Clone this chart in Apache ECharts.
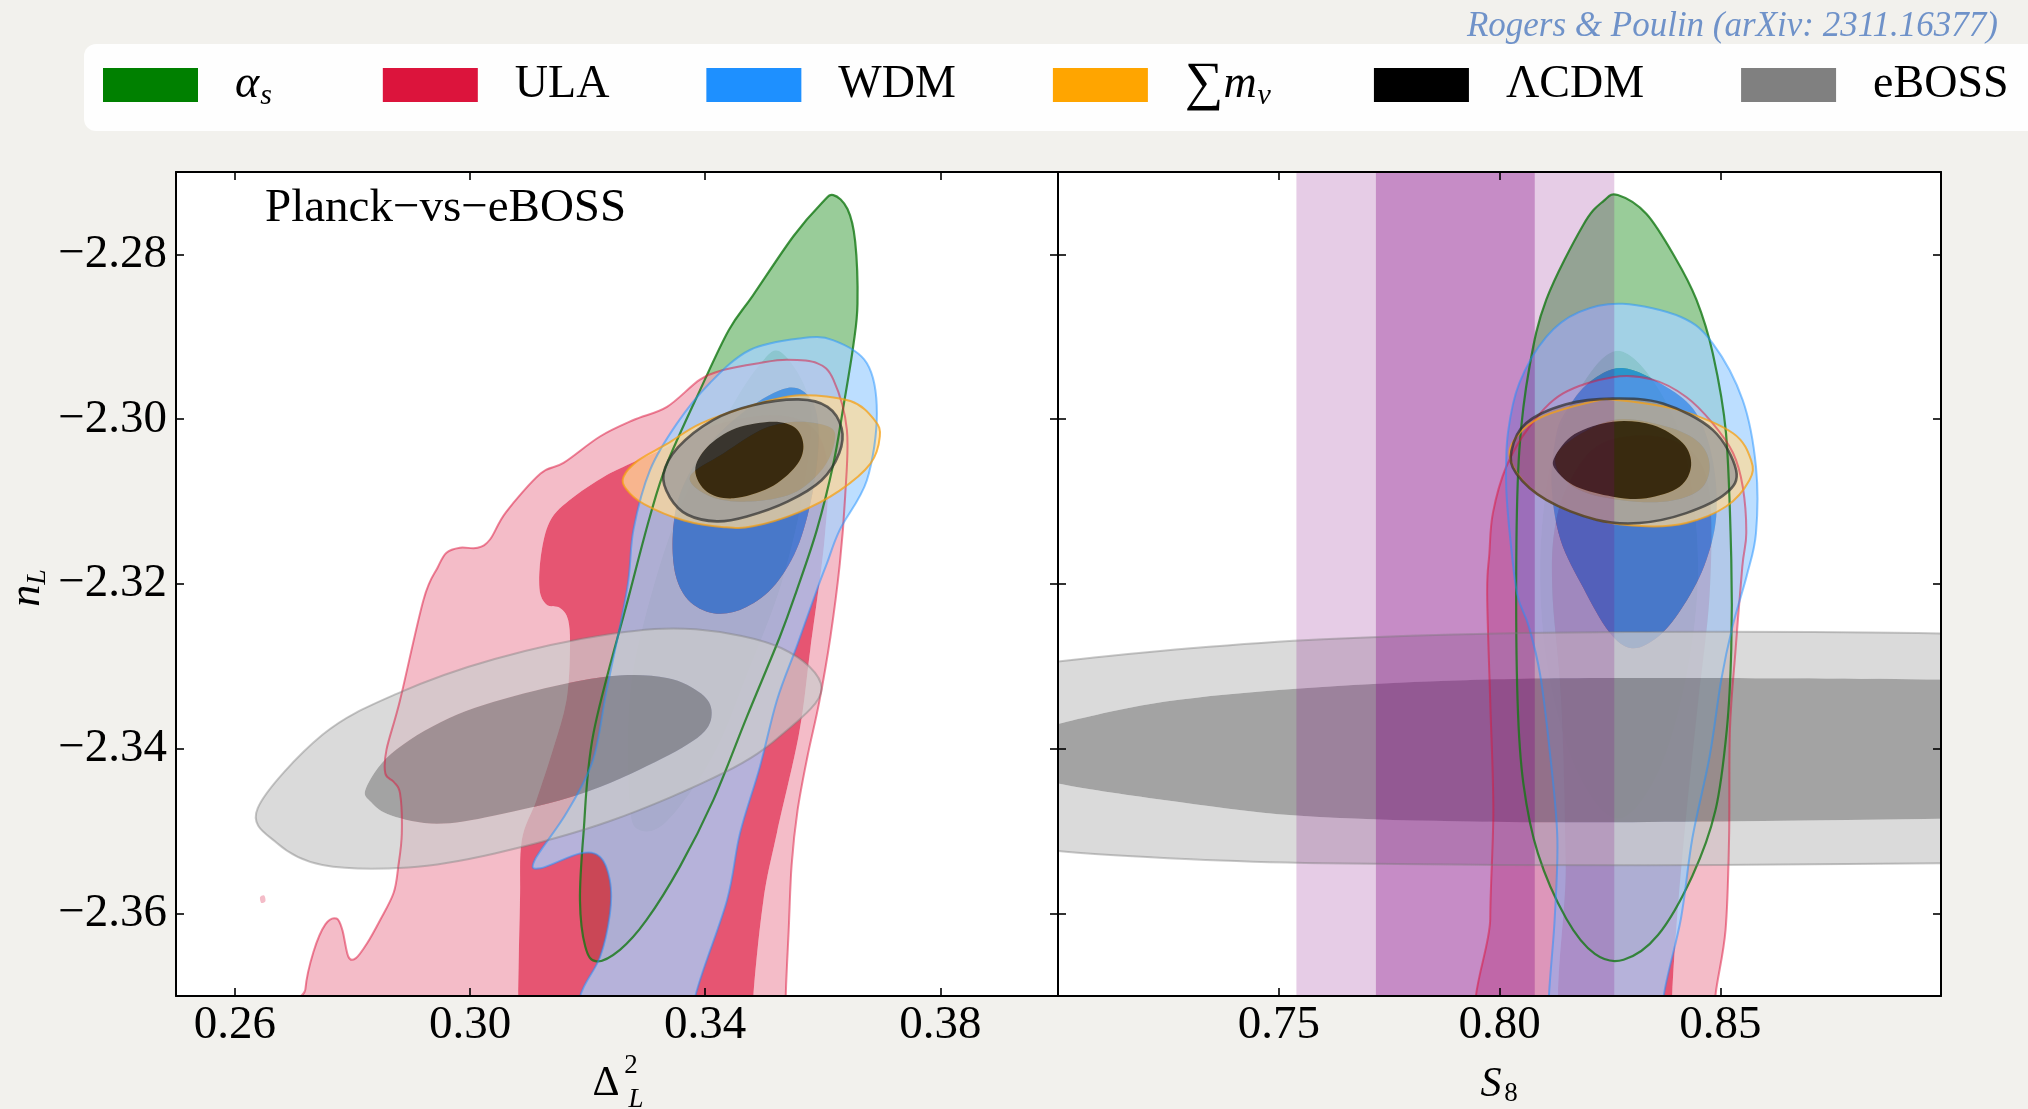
<!DOCTYPE html>
<html>
<head>
<meta charset="utf-8">
<title>Planck vs eBOSS</title>
<script src="https://cdn.jsdelivr.net/npm/echarts@6/dist/echarts.min.js"></script>
<style>
html,body{margin:0;padding:0;background:#f2f1ed;}
#chart{width:2028px;height:1109px;}
</style>
</head>
<body>
<div id="chart"></div>
<script>
// ---------------- axis ranges & ticks ----------------
const X_RANGE_DL = [0.25, 0.40];
const X_RANGE_S8 = [0.70, 0.90];
const Y_RANGE_NL = [-2.37, -2.27];
const X_TICKS_DL = [0.26, 0.30, 0.34, 0.38];
const X_TICKS_S8 = [0.75, 0.80, 0.85];
const Y_TICKS_NL = [-2.28, -2.30, -2.32, -2.34, -2.36];

// ---------------- legend ----------------
const LEGEND_KEYS = ['as', 'ULA', 'WDM', 'mnu', 'LCDM', 'eBOSS'];
const LEGEND_LABELS = ['{it|α}{sub|s}{gapA|\u2003}', 'ULA', 'WDM', '{sum|∑}{it|m}{sub|ν}{gapB|\u2003}', 'ΛCDM', 'eBOSS'];
const LEGEND_COLORS = ['#008000', '#dc143c', '#1e90ff', '#ffa500', '#000000', '#808080'];
const CREDIT = 'Rogers & Poulin (arXiv: 2311.16377)';
const PANEL_TITLE = 'Planck\u2212vs\u2212eBOSS';

// ---------------- left panel contours (x = Δ²_L, y = n_L) ----------------
const LEFT_AS_2 = [[0.3618,-2.2728],[0.3642,-2.2745],[0.3655,-2.2784],[0.3659,-2.2860],[0.3652,-2.2910],[0.3635,-2.2985],[0.3618,-2.3054],[0.3590,-2.3134],[0.3556,-2.3207],[0.3527,-2.3264],[0.3471,-2.3361],[0.3414,-2.3462],[0.3357,-2.3543],[0.3300,-2.3608],[0.3255,-2.3644],[0.3215,-2.3658],[0.3196,-2.3640],[0.3187,-2.3584],[0.3193,-2.3503],[0.3210,-2.3381],[0.3270,-2.3215],[0.3306,-2.3118],[0.3335,-2.3054],[0.3391,-2.2965],[0.3440,-2.2892],[0.3481,-2.2850],[0.3550,-2.2778],[0.3598,-2.2738]];
const LEFT_AS_1 = [[0.3530,-2.2919],[0.3579,-2.2982],[0.3569,-2.3080],[0.3530,-2.3199],[0.3471,-2.3310],[0.3413,-2.3409],[0.3335,-2.3488],[0.3286,-2.3498],[0.3271,-2.3462],[0.3271,-2.3343],[0.3296,-2.3245],[0.3354,-2.3113],[0.3432,-2.3001],[0.3491,-2.2935]];
const LEFT_ULA_2 = [[0.2720,-2.3760],[0.2720,-2.3692],[0.2734,-2.3646],[0.2754,-2.3613],[0.2773,-2.3606],[0.2783,-2.3620],[0.2793,-2.3652],[0.2806,-2.3654],[0.2825,-2.3636],[0.2847,-2.3608],[0.2870,-2.3575],[0.2878,-2.3543],[0.2884,-2.3503],[0.2881,-2.3454],[0.2870,-2.3440],[0.2856,-2.3430],[0.2858,-2.3401],[0.2881,-2.3341],[0.2921,-2.3219],[0.2945,-2.3180],[0.2960,-2.3162],[0.2983,-2.3156],[0.3013,-2.3156],[0.3034,-2.3146],[0.3061,-2.3113],[0.3120,-2.3066],[0.3159,-2.3053],[0.3221,-2.3021],[0.3278,-2.3001],[0.3335,-2.2985],[0.3391,-2.2952],[0.3432,-2.2940],[0.3491,-2.2932],[0.3539,-2.2928],[0.3590,-2.2932],[0.3618,-2.2952],[0.3641,-2.3013],[0.3638,-2.3094],[0.3629,-2.3175],[0.3613,-2.3264],[0.3594,-2.3343],[0.3574,-2.3409],[0.3557,-2.3475],[0.3547,-2.3541],[0.3542,-2.3620],[0.3537,-2.3700],[0.3537,-2.3760]];
const LEFT_ULA_2_ISLAND = [[0.2643,-2.3580],[0.2650,-2.3578],[0.2652,-2.3585],[0.2645,-2.3587]];
const LEFT_ULA_1 = [[0.3082,-2.3760],[0.3082,-2.3700],[0.3085,-2.3584],[0.3088,-2.3511],[0.3113,-2.3462],[0.3141,-2.3401],[0.3164,-2.3341],[0.3170,-2.3280],[0.3167,-2.3244],[0.3153,-2.3229],[0.3130,-2.3225],[0.3118,-2.3205],[0.3122,-2.3159],[0.3139,-2.3120],[0.3179,-2.3093],[0.3227,-2.3070],[0.3272,-2.3054],[0.3335,-2.3034],[0.3413,-2.3008],[0.3510,-2.2995],[0.3579,-2.3008],[0.3608,-2.3054],[0.3603,-2.3146],[0.3579,-2.3278],[0.3560,-2.3380],[0.3522,-2.3502],[0.3499,-2.3584],[0.3482,-2.3700],[0.3482,-2.3760]];
const LEFT_WDM_2 = [[0.3561,-2.2902],[0.3617,-2.2904],[0.3675,-2.2932],[0.3692,-2.2993],[0.3675,-2.3074],[0.3629,-2.3134],[0.3607,-2.3175],[0.3590,-2.3207],[0.3556,-2.3275],[0.3522,-2.3341],[0.3493,-2.3422],[0.3459,-2.3503],[0.3437,-2.3584],[0.3383,-2.3701],[0.3380,-2.3760],[0.3185,-2.3760],[0.3187,-2.3701],[0.3221,-2.3653],[0.3238,-2.3600],[0.3238,-2.3560],[0.3221,-2.3531],[0.3187,-2.3527],[0.3120,-2.3545],[0.3110,-2.3535],[0.3164,-2.3478],[0.3209,-2.3414],[0.3232,-2.3330],[0.3267,-2.3207],[0.3278,-2.3134],[0.3306,-2.3062],[0.3352,-2.3005],[0.3408,-2.2956],[0.3476,-2.2916]];
const LEFT_WDM_1 = [[0.3540,-2.2962],[0.3579,-2.2975],[0.3593,-2.3014],[0.3585,-2.3080],[0.3560,-2.3150],[0.3520,-2.3200],[0.3470,-2.3228],[0.3420,-2.3236],[0.3375,-2.3222],[0.3350,-2.3190],[0.3345,-2.3139],[0.3359,-2.3087],[0.3403,-2.3034],[0.3471,-2.2988]];
const LEFT_MNU_2 = [[0.3261,-2.3070],[0.3286,-2.3050],[0.3335,-2.3030],[0.3393,-2.3005],[0.3481,-2.2983],[0.3561,-2.2971],[0.3647,-2.2978],[0.3688,-2.3001],[0.3697,-2.3021],[0.3681,-2.3054],[0.3628,-2.3087],[0.3559,-2.3113],[0.3481,-2.3130],[0.3432,-2.3131],[0.3364,-2.3123],[0.3296,-2.3103],[0.3266,-2.3085]];
const LEFT_MNU_1 = [[0.3374,-2.3070],[0.3432,-2.3041],[0.3501,-2.3011],[0.3561,-2.3003],[0.3613,-2.3010],[0.3620,-2.3028],[0.3600,-2.3060],[0.3549,-2.3090],[0.3476,-2.3100],[0.3410,-2.3094]];
const LEFT_LCDM_2 = [[0.3329,-2.3067],[0.3354,-2.3034],[0.3413,-2.3001],[0.3481,-2.2983],[0.3559,-2.2976],[0.3608,-2.2985],[0.3632,-2.3011],[0.3628,-2.3041],[0.3598,-2.3074],[0.3540,-2.3100],[0.3471,-2.3118],[0.3420,-2.3124],[0.3370,-2.3116],[0.3340,-2.3095]];
const LEFT_LCDM_1 = [[0.3383,-2.3062],[0.3403,-2.3034],[0.3452,-2.3011],[0.3516,-2.3003],[0.3554,-2.3011],[0.3567,-2.3033],[0.3554,-2.3057],[0.3510,-2.3083],[0.3448,-2.3096],[0.3403,-2.3088]];
const LEFT_EBOSS_2 = [[0.2639,-2.3472],[0.2671,-2.3514],[0.2749,-2.3541],[0.2895,-2.3544],[0.3042,-2.3527],[0.3237,-2.3488],[0.3432,-2.3429],[0.3530,-2.3383],[0.3598,-2.3327],[0.3530,-2.3278],[0.3384,-2.3255],[0.3237,-2.3261],[0.3042,-2.3291],[0.2876,-2.3333],[0.2749,-2.3383]];
const LEFT_EBOSS_1 = [[0.2823,-2.3448],[0.2832,-2.3465],[0.2866,-2.3481],[0.2944,-2.3491],[0.3042,-2.3481],[0.3188,-2.3455],[0.3315,-2.3416],[0.3393,-2.3383],[0.3411,-2.3356],[0.3393,-2.3333],[0.3335,-2.3314],[0.3237,-2.3312],[0.3091,-2.3333],[0.2964,-2.3363],[0.2866,-2.3406]];

// ---------------- right panel contours (x = S8, y = n_L) ----------------
const RIGHT_AS_2 = [[0.8268,-2.2728],[0.8333,-2.2751],[0.8398,-2.2804],[0.8446,-2.2855],[0.8483,-2.2920],[0.8513,-2.3017],[0.8525,-2.3171],[0.8525,-2.3278],[0.8515,-2.3376],[0.8489,-2.3475],[0.8437,-2.3554],[0.8359,-2.3626],[0.8281,-2.3656],[0.8216,-2.3649],[0.8151,-2.3606],[0.8087,-2.3527],[0.8054,-2.3442],[0.8041,-2.3343],[0.8038,-2.3171],[0.8045,-2.3037],[0.8068,-2.2936],[0.8106,-2.2855],[0.8190,-2.2764],[0.8236,-2.2735]];
const RIGHT_AS_1 = [[0.8268,-2.2917],[0.8359,-2.2962],[0.8424,-2.3047],[0.8450,-2.3179],[0.8424,-2.3310],[0.8359,-2.3429],[0.8268,-2.3485],[0.8177,-2.3429],[0.8112,-2.3310],[0.8092,-2.3179],[0.8118,-2.3047],[0.8183,-2.2962]];
const RIGHT_ULA_2 = [[0.7982,-2.3760],[0.7979,-2.3606],[0.7986,-2.3475],[0.7979,-2.3343],[0.7972,-2.3212],[0.7977,-2.3163],[0.7985,-2.3114],[0.8015,-2.3058],[0.8068,-2.3009],[0.8143,-2.2969],[0.8257,-2.2949],[0.8347,-2.2952],[0.8423,-2.2973],[0.8483,-2.3005],[0.8529,-2.3041],[0.8551,-2.3082],[0.8559,-2.3138],[0.8550,-2.3179],[0.8535,-2.3278],[0.8522,-2.3376],[0.8520,-2.3508],[0.8512,-2.3620],[0.8489,-2.3700],[0.8485,-2.3760]];
const RIGHT_ULA_1 = [[0.8150,-2.3760],[0.8150,-2.3541],[0.8140,-2.3343],[0.8120,-2.3212],[0.8125,-2.3133],[0.8160,-2.3074],[0.8229,-2.3030],[0.8346,-2.3020],[0.8437,-2.3040],[0.8476,-2.3093],[0.8476,-2.3212],[0.8450,-2.3343],[0.8424,-2.3475],[0.8404,-2.3593],[0.8391,-2.3700],[0.8391,-2.3760]];
const RIGHT_WDM_2 = [[0.8279,-2.2860],[0.8411,-2.2876],[0.8483,-2.2908],[0.8551,-2.2977],[0.8581,-2.3058],[0.8581,-2.3138],[0.8560,-2.3190],[0.8528,-2.3251],[0.8502,-2.3317],[0.8476,-2.3409],[0.8437,-2.3508],[0.8411,-2.3606],[0.8372,-2.3700],[0.8372,-2.3760],[0.8112,-2.3760],[0.8112,-2.3700],[0.8125,-2.3606],[0.8131,-2.3508],[0.8115,-2.3409],[0.8092,-2.3310],[0.8066,-2.3251],[0.8040,-2.3212],[0.8023,-2.3138],[0.8015,-2.3078],[0.8019,-2.3017],[0.8045,-2.2956],[0.8106,-2.2900],[0.8180,-2.2870]];
const RIGHT_WDM_1 = [[0.8279,-2.2938],[0.8378,-2.2961],[0.8446,-2.2993],[0.8483,-2.3050],[0.8491,-2.3118],[0.8463,-2.3179],[0.8411,-2.3231],[0.8359,-2.3264],[0.8300,-2.3278],[0.8248,-2.3258],[0.8190,-2.3205],[0.8138,-2.3146],[0.8118,-2.3080],[0.8128,-2.3020],[0.8151,-2.2990],[0.8204,-2.2955]];
const RIGHT_MNU_2 = [[0.8025,-2.3034],[0.8086,-2.3000],[0.8216,-2.2978],[0.8272,-2.2977],[0.8408,-2.2989],[0.8529,-2.3017],[0.8570,-2.3050],[0.8566,-2.3074],[0.8513,-2.3106],[0.8423,-2.3126],[0.8332,-2.3130],[0.8219,-2.3122],[0.8106,-2.3098],[0.8040,-2.3066]];
const RIGHT_MNU_1 = [[0.8143,-2.3033],[0.8257,-2.3001],[0.8378,-2.3009],[0.8453,-2.3029],[0.8476,-2.3058],[0.8453,-2.3086],[0.8378,-2.3100],[0.8272,-2.3098],[0.8181,-2.3086],[0.8130,-2.3060]];
const RIGHT_LCDM_2 = [[0.8027,-2.3039],[0.8060,-2.3005],[0.8151,-2.2982],[0.8257,-2.2975],[0.8370,-2.2981],[0.8483,-2.3013],[0.8536,-2.3062],[0.8513,-2.3090],[0.8423,-2.3114],[0.8317,-2.3126],[0.8219,-2.3122],[0.8106,-2.3098],[0.8038,-2.3066]];
const RIGHT_LCDM_1 = [[0.8125,-2.3046],[0.8170,-2.3018],[0.8257,-2.3003],[0.8347,-2.3007],[0.8415,-2.3029],[0.8434,-2.3056],[0.8408,-2.3082],[0.8332,-2.3096],[0.8257,-2.3094],[0.8174,-2.3082],[0.8128,-2.3062]];
const RIGHT_EBOSS_2 = [[0.636,-2.3405],[0.645,-2.3360],[0.660,-2.3330],[0.680,-2.3308],[0.700,-2.3294],[0.730,-2.3278],[0.760,-2.3267],[0.800,-2.3260],[0.850,-2.3258],[0.900,-2.3260],[0.950,-2.3268],[0.990,-2.3300],[1.010,-2.3400],[0.990,-2.3500],[0.950,-2.3532],[0.900,-2.3539],[0.850,-2.3541],[0.800,-2.3541],[0.760,-2.3539],[0.730,-2.3534],[0.700,-2.3524],[0.680,-2.3507],[0.660,-2.3484],[0.645,-2.3452]];
const RIGHT_EBOSS_1 = [[0.688,-2.3406],[0.695,-2.3382],[0.700,-2.3370],[0.724,-2.3343],[0.754,-2.3327],[0.790,-2.3317],[0.830,-2.3314],[0.900,-2.3316],[0.950,-2.3325],[0.980,-2.3360],[0.990,-2.3400],[0.980,-2.3450],[0.950,-2.3478],[0.900,-2.3485],[0.830,-2.3489],[0.790,-2.3488],[0.754,-2.3481],[0.724,-2.3462],[0.700,-2.3442],[0.695,-2.3430]];
const S8_BAND_2SIG = [0.754, 0.826];
const S8_BAND_1SIG = [0.772, 0.808];

// ---------------- styles ----------------
const SERIF = "'Liberation Serif','Times New Roman',serif";
const FILL = {
  as:    ['rgba(113,184,113,0.72)', 'rgba(0,128,0,0.72)'],
  ULA:   ['rgba(240,162,179,0.72)', 'rgba(220,20,60,0.72)'],
  WDM:   ['rgba(165,210,255,0.74)', 'rgba(30,144,255,0.72)'],
  mnu:   ['rgba(255,219,153,0.72)', 'rgba(255,165,0,0.72)'],
  LCDM:  ['rgba(153,153,153,0.72)', 'rgba(0,0,0,0.72)'],
  eBOSS: ['rgba(204,204,204,0.72)', 'rgba(128,128,128,0.72)']
};
const EDGE = {
  as: ['rgba(20,120,20,0.8)', 2.2], ULA: ['rgba(220,20,60,0.5)', 2], WDM: ['rgba(30,144,255,0.5)', 2],
  mnu: ['rgba(245,160,20,0.75)', 2], LCDM: ['rgba(45,45,45,0.7)', 2.6], eBOSS: ['rgba(120,120,120,0.4)', 2]
};

// ---------------- helpers ----------------
function closedSpline(p) {
  const n = p.length; const f = v => v.toFixed(2);
  let d = 'M' + f(p[0][0]) + ' ' + f(p[0][1]);
  for (let i = 0; i < n; i++) {
    const p0 = p[(i - 1 + n) % n], p1 = p[i], p2 = p[(i + 1) % n], p3 = p[(i + 2) % n];
    d += ' C' + f(p1[0] + (p2[0] - p0[0]) / 6) + ' ' + f(p1[1] + (p2[1] - p0[1]) / 6) + ' ' +
      f(p2[0] - (p3[0] - p1[0]) / 6) + ' ' + f(p2[1] - (p3[1] - p1[1]) / 6) + ' ' + f(p2[0]) + ' ' + f(p2[1]);
  }
  return d + ' Z';
}
function rectRing(p) {
  return 'M' + p.map(q => q[0].toFixed(2) + ' ' + q[1].toFixed(2)).join(' L') + ' Z';
}
function signedArea(p) {
  let a = 0;
  for (let i = 0; i < p.length; i++) { const q = p[i], r = p[(i + 1) % p.length]; a += q[0] * r[1] - r[0] * q[1]; }
  return a;
}
function fillSeries(name, gi, outer, inner, color) {
  return {
    type: 'custom', name: name, xAxisIndex: gi, yAxisIndex: gi, clip: true, silent: true, animation: false,
    itemStyle: {color: color}, data: outer, encode: {x: 0, y: 1},
    renderItem: function (params, api) {
      if (params.dataIndex !== 0) return null;
      const o = outer.map(q => api.coord(q));
      let d = closedSpline(o);
      if (inner) {
        let h = inner.map(q => api.coord(q));
        if (signedArea(h) * signedArea(o) > 0) h = h.slice().reverse();
        d += ' ' + closedSpline(h);
      }
      return {type: 'path', shape: {pathData: d}, style: {fill: color, stroke: null}};
    }
  };
}
function edgeSeries(name, gi, pts, stroke, width) {
  return {
    type: 'custom', name: name, xAxisIndex: gi, yAxisIndex: gi, clip: true, silent: true, animation: false,
    data: pts, encode: {x: 0, y: 1},
    renderItem: function (params, api) {
      if (params.dataIndex !== 0) return null;
      return {type: 'path', shape: {pathData: closedSpline(pts.map(q => api.coord(q)))},
        style: {fill: null, stroke: stroke, lineWidth: width}};
    }
  };
}
function bandSeries(name, band, inner, color) {
  return {
    type: 'custom', name: name, xAxisIndex: 1, yAxisIndex: 1, clip: true, silent: true, animation: false,
    data: [band], encode: {x: [0, 1]},
    renderItem: function (params, api) {
      const cs = params.coordSys;
      const x0 = api.coord([band[0], Y_RANGE_NL[0]])[0], x1 = api.coord([band[1], Y_RANGE_NL[0]])[0];
      const y0 = cs.y, y1 = cs.y + cs.height;
      let d = rectRing([[x0, y0], [x1, y0], [x1, y1], [x0, y1]]);
      if (inner) {
        const i0 = api.coord([inner[0], Y_RANGE_NL[0]])[0], i1 = api.coord([inner[1], Y_RANGE_NL[0]])[0];
        d += ' ' + rectRing([[i0, y0], [i0, y1], [i1, y1], [i1, y0]]);
      }
      return {type: 'path', shape: {pathData: d}, style: {fill: color, stroke: null}};
    }
  };
}

const PANELS = [
  {g: 0, as: [LEFT_AS_2, LEFT_AS_1], ULA: [LEFT_ULA_2, LEFT_ULA_1], WDM: [LEFT_WDM_2, LEFT_WDM_1],
   mnu: [LEFT_MNU_2, LEFT_MNU_1], LCDM: [LEFT_LCDM_2, LEFT_LCDM_1], eBOSS: [LEFT_EBOSS_2, LEFT_EBOSS_1]},
  {g: 1, as: [RIGHT_AS_2, RIGHT_AS_1], ULA: [RIGHT_ULA_2, RIGHT_ULA_1], WDM: [RIGHT_WDM_2, RIGHT_WDM_1],
   mnu: [RIGHT_MNU_2, RIGHT_MNU_1], LCDM: [RIGHT_LCDM_2, RIGHT_LCDM_1], eBOSS: [RIGHT_EBOSS_2, RIGHT_EBOSS_1]}
];

const series = [];
PANELS.forEach(P => {
  LEGEND_KEYS.forEach(k => {
    series.push(fillSeries(k, P.g, P[k][0], P[k][1], FILL[k][0]));
    series.push(fillSeries(k + '-1sig-' + P.g, P.g, P[k][1], null, FILL[k][1]));
    if (k === 'ULA' && P.g === 0) series.push(fillSeries('ULA-island', 0, LEFT_ULA_2_ISLAND, null, FILL.ULA[0]));
  });
  if (P.g === 1) {
    series.push(bandSeries('band2', S8_BAND_2SIG, S8_BAND_1SIG, 'rgba(128,0,128,0.2)'));
    series.push(bandSeries('band1', S8_BAND_1SIG, null, 'rgba(128,0,128,0.45)'));
  }
  LEGEND_KEYS.forEach(k => {
    series.push(edgeSeries(k + '-edge-' + P.g, P.g, P[k][0], EDGE[k][0], EDGE[k][1]));
  });
});

const fmt = v => Number(v).toFixed(2).replace('-', '\u2212');
const tickStyle = {show: true, inside: true, length: 8, lineStyle: {color: '#000', width: 1.6}};
const lineStyle = {show: true, onZero: false, lineStyle: {color: '#000', width: 2}};
function xAx(gi, pos, range, ticks, labels) {
  return {type: 'value', gridIndex: gi, position: pos, min: range[0], max: range[1], z: 10,
    axisLine: lineStyle, splitLine: {show: false},
    axisTick: Object.assign({customValues: ticks}, tickStyle),
    axisLabel: labels ? {customValues: ticks, formatter: fmt, fontFamily: SERIF, fontSize: 47, color: '#000', margin: 6}
                      : {show: false}};
}
function yAx(gi, pos, labels) {
  return {type: 'value', gridIndex: gi, position: pos, min: Y_RANGE_NL[0], max: Y_RANGE_NL[1], z: 10,
    axisLine: lineStyle, splitLine: {show: false},
    axisTick: Object.assign({customValues: Y_TICKS_NL}, tickStyle),
    axisLabel: labels ? {customValues: Y_TICKS_NL, formatter: fmt, fontFamily: SERIF, fontSize: 47, color: '#000', margin: 9}
                      : {show: false}};
}

const chart = echarts.init(document.getElementById('chart'), null, {renderer: 'canvas'});
chart.setOption({
  backgroundColor: '#f2f1ed',
  animation: false,
  grid: [
    {left: 176, top: 172, width: 882, height: 824, show: true, backgroundColor: '#ffffff', borderWidth: 0},
    {left: 1058, top: 172, width: 883, height: 824, show: true, backgroundColor: '#ffffff', borderWidth: 0}
  ],
  xAxis: [
    xAx(0, 'bottom', X_RANGE_DL, X_TICKS_DL, true),
    xAx(1, 'bottom', X_RANGE_S8, X_TICKS_S8, true),
    xAx(0, 'top', X_RANGE_DL, X_TICKS_DL, false),
    xAx(1, 'top', X_RANGE_S8, X_TICKS_S8, false)
  ],
  yAxis: [yAx(0, 'left', true), yAx(1, 'left', false), yAx(0, 'right', false), yAx(1, 'right', false)],
  legend: {
    data: LEGEND_KEYS.map((k, i) => ({name: k, itemStyle: {color: LEGEND_COLORS[i]}})),
    left: 103, top: 58, padding: 0, itemWidth: 95, itemHeight: 34, itemGap: 97, icon: 'rect', selectedMode: false,
    formatter: n => LEGEND_LABELS[LEGEND_KEYS.indexOf(n)],
    textStyle: {
      fontFamily: SERIF, fontSize: 46, color: '#000', padding: [0, 0, 0, 32],
      rich: {
        it: {fontFamily: SERIF, fontStyle: 'italic', fontSize: 46, color: '#000'},
        sub: {fontFamily: SERIF, fontStyle: 'italic', fontSize: 30, color: '#000', padding: [22, 0, 0, 1]},
        sum: {fontFamily: SERIF, fontSize: 54, color: '#000'},
        gapA: {fontFamily: SERIF, fontSize: 14, color: 'rgba(0,0,0,0)'},
        gapB: {fontFamily: SERIF, fontSize: 6, color: 'rgba(0,0,0,0)'}
      }
    }
  },
  graphic: [
    {type: 'rect', z: -10, shape: {x: 84, y: 44, width: 2010, height: 87, r: 12}, style: {fill: 'rgba(255,255,255,0.9)'}},
    {type: 'text', x: 1998, y: 27, style: {text: CREDIT, font: 'italic 35px ' + SERIF, fill: '#6f92c9', textAlign: 'right', textVerticalAlign: 'middle'}},
    {type: 'text', x: 265, y: 209, z: 100, style: {text: PANEL_TITLE, font: '47px ' + SERIF, fill: '#000', textAlign: 'left', textVerticalAlign: 'middle'}},
    {type: 'text', x: 606, y: 1084, style: {text: 'Δ', font: '42px ' + SERIF, fill: '#000', textAlign: 'center', textVerticalAlign: 'middle'}},
    {type: 'text', x: 631, y: 1066, style: {text: '2', font: '27px ' + SERIF, fill: '#000', textAlign: 'center', textVerticalAlign: 'middle'}},
    {type: 'text', x: 636, y: 1100, style: {text: 'L', font: 'italic 27px ' + SERIF, fill: '#000', textAlign: 'center', textVerticalAlign: 'middle'}},
    {type: 'text', x: 1491, y: 1085, style: {text: 'S', font: 'italic 42px ' + SERIF, fill: '#000', textAlign: 'center', textVerticalAlign: 'middle'}},
    {type: 'text', x: 1511, y: 1094, style: {text: '8', font: '27px ' + SERIF, fill: '#000', textAlign: 'center', textVerticalAlign: 'middle'}},
    {type: 'text', x: 27, y: 588, rotation: Math.PI / 2, style: {
      text: '{n|n}{s|L}', textAlign: 'center', textVerticalAlign: 'middle',
      rich: {n: {font: 'italic 44px ' + SERIF, fill: '#000'}, s: {font: 'italic 28px ' + SERIF, fill: '#000', padding: [22, 0, 0, 0]}}}}
  ],
  series: series
});
</script>
</body>
</html>
